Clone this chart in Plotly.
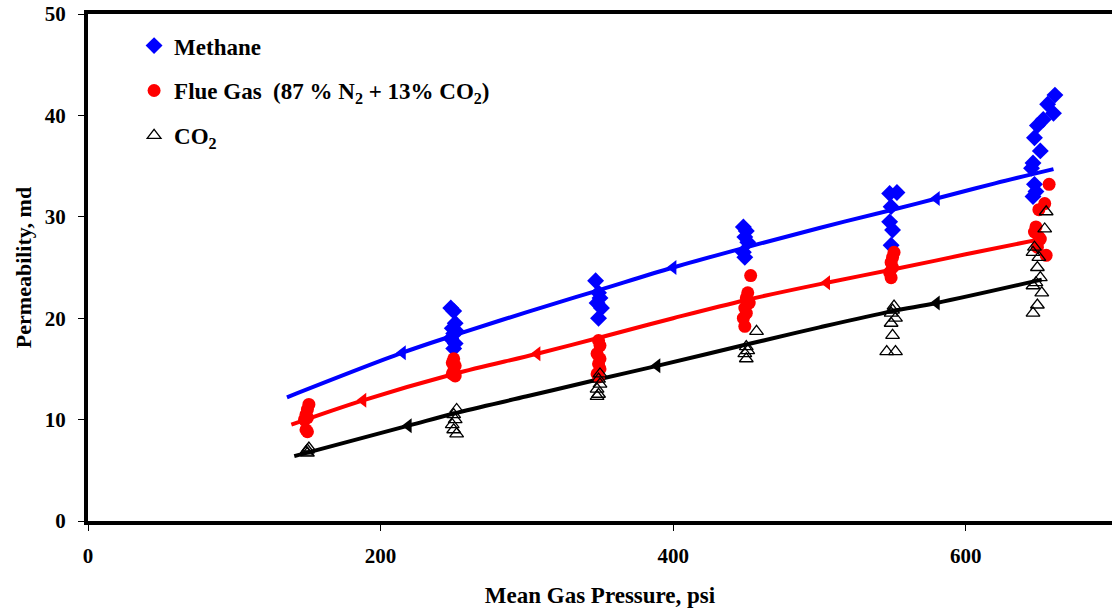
import plotly.graph_objects as go

# ---------------- data ----------------
methane_p = [248, 250, 251, 249, 252, 250, 248, 251, 250,
             347, 349, 350, 348, 351, 349,
             448, 450, 449, 451, 448, 449,
             548, 553, 549, 548, 550, 549,
             661, 656, 660, 653, 649, 647, 651, 646, 645, 647, 648, 646]
methane_k = [21.0, 20.7, 19.5, 19.0, 18.7, 18.5, 18.0, 17.5, 17.0,
             23.7, 22.5, 22.0, 21.5, 21.0, 20.0,
             29.0, 28.6, 28.0, 27.5, 26.5, 26.0,
             32.3, 32.4, 31.0, 29.5, 28.7, 27.2,
             42.0, 41.1, 40.2, 39.6, 39.0, 37.8, 36.5, 35.3, 34.8, 33.2, 32.5, 32.0]

flue_p = [151, 150, 149, 150, 148, 149, 150,
          250, 249, 251, 250, 249, 251,
          349, 350, 348, 350, 349, 350, 348, 349,
          453, 451, 450, 452, 449, 450, 448, 449,
          551, 550, 549, 550, 548, 549,
          657, 654, 650, 648, 647, 650, 651, 649, 655]
flue_k = [11.5, 11.0, 10.5, 10.2, 10.0, 9.0, 8.8,
          16.0, 15.6, 15.3, 14.8, 14.5, 14.3,
          17.8, 17.3, 16.5, 16.0, 15.5, 15.0, 14.5, 14.2,
          24.2, 22.5, 22.0, 21.5, 21.0, 20.5, 20.0, 19.2,
          26.5, 26.0, 25.5, 25.0, 24.5, 24.0,
          33.2, 31.3, 30.7, 29.0, 28.5, 28.0, 27.8, 27.0, 26.2]

co2_p = [151, 150, 149, 150,
         252, 250, 251, 249, 250, 252,
         350, 349, 350, 348, 349, 348,
         457, 450, 451, 449, 450,
         551, 550, 549, 552, 549, 546, 552, 550,
         655, 654, 647, 646, 650, 649, 651, 648, 646, 652, 649, 646]
co2_k = [7.2, 7.0, 6.8, 6.7,
         11.0, 10.5, 10.0, 9.5, 9.0, 8.6,
         14.5, 14.0, 13.5, 13.0, 12.5, 12.3,
         18.7, 17.2, 16.8, 16.5, 16.0,
         21.2, 20.8, 20.5, 20.0, 19.5, 16.7, 16.7, 18.3,
         30.5, 28.8, 27.0, 26.5, 26.0, 25.0, 24.0, 23.5, 23.2, 22.5, 21.3, 20.5]

# trend lines
methane_fit_p = [136, 215, 250, 300, 350, 400, 450, 500, 550, 580, 620, 660]
methane_fit_k = [12.2, 16.6, 18.3, 20.6, 22.8, 25.0, 27.0, 28.9, 30.7, 31.8, 33.3, 34.7]
flue_fit_p = [139, 188, 250, 307, 350, 400, 450, 505, 550, 600, 648]
flue_fit_k = [9.5, 11.9, 14.5, 16.5, 18.1, 20.0, 21.8, 23.5, 24.8, 26.3, 27.7]
co2_fit_p = [141, 219, 250, 300, 350, 389, 450, 500, 550, 580, 652]
co2_fit_k = [6.4, 9.4, 10.6, 12.3, 14.0, 15.3, 17.4, 19.1, 20.7, 21.5, 23.8]

# arrow-like markers on the lines
methane_tri_p = [215, 400, 580]
methane_tri_k = [16.6, 25.0, 31.8]
flue_tri_p = [188, 307, 505]
flue_tri_k = [11.9, 16.5, 23.5]
co2_tri_p = [219, 389, 580]
co2_tri_k = [9.4, 15.3, 21.5]

x_ticks = [0, 200, 400, 600]
y_ticks = [0, 10, 20, 30, 40, 50]

BLUE = "#0000FF"
RED = "#FF0000"
BLACK = "#000000"
FONT = "Liberation Serif"

fig = go.Figure()

# trend lines
for px_, k_, c in [(methane_fit_p, methane_fit_k, BLUE),
                   (flue_fit_p, flue_fit_k, RED),
                   (co2_fit_p, co2_fit_k, BLACK)]:
    fig.add_trace(go.Scatter(x=px_, y=k_, mode="lines", line=dict(color=c, width=4, shape="spline"),
                             showlegend=False, hoverinfo="skip"))
for px_, k_, c in [(methane_tri_p, methane_tri_k, BLUE),
                   (flue_tri_p, flue_tri_k, RED),
                   (co2_tri_p, co2_tri_k, BLACK)]:
    fig.add_trace(go.Scatter(x=px_, y=k_, mode="markers",
                             marker=dict(symbol="triangle-left", size=13, color=c),
                             showlegend=False, hoverinfo="skip"))

# data
fig.add_trace(go.Scatter(x=methane_p, y=methane_k, mode="markers", name="Methane", legendgroup="a",
                         marker=dict(symbol="diamond", size=13, color=BLUE)))
fig.add_trace(go.Scatter(x=flue_p, y=flue_k, mode="markers",
                         name="Flue Gas  (87 % N<sub>2</sub> + 13% CO<sub>2</sub>)", legendgroup="b",
                         marker=dict(symbol="circle", size=13, color=RED)))
fig.add_trace(go.Scatter(x=co2_p, y=co2_k, mode="markers", name="CO<sub>2</sub>", legendgroup="c",
                         marker=dict(symbol="triangle-up-open", size=12, color=BLACK, line=dict(width=1.3))))

fig.update_layout(
    width=1112, height=615,
    margin=dict(l=88, r=0, t=14, b=94),
    paper_bgcolor="white", plot_bgcolor="white",
    font=dict(family=FONT, color="black"),
    showlegend=True,
    legend=dict(x=0.045, y=0.98, xanchor="left", yanchor="top",
                font=dict(family=FONT, size=23, weight="bold", color="black"),
                bgcolor="rgba(0,0,0,0)", tracegroupgap=12, itemwidth=30),
    xaxis=dict(range=[0, 700], tickvals=x_ticks, showgrid=False, zeroline=False,
               showline=True, linecolor="black", linewidth=4, mirror=True,
               ticks="outside", ticklen=6, tickwidth=1, tickcolor="black",
               ticklabelstandoff=7,
               tickfont=dict(family=FONT, size=21, weight="bold"),
               title=dict(text="<b>Mean Gas Pressure, psi</b>", font=dict(family=FONT, size=23), standoff=21)),
    yaxis=dict(range=[0, 50], tickvals=y_ticks, showgrid=False, zeroline=False,
               showline=True, linecolor="black", linewidth=4,
               ticks="outside", ticklen=6, tickwidth=1, tickcolor="black",
               ticklabelstandoff=8,
               tickfont=dict(family=FONT, size=21, weight="bold"),
               title=dict(text="<b>Permeability, md</b>", font=dict(family=FONT, size=22), standoff=8)),
)

fig.write_html("out.html")
